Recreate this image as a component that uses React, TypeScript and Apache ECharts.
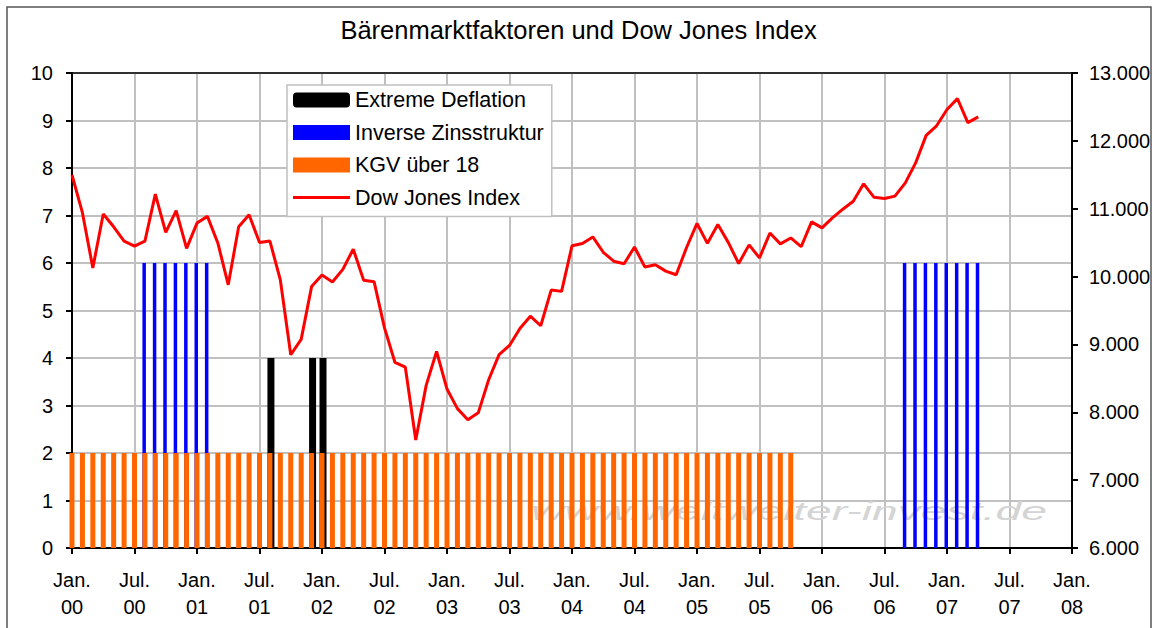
import React, { useEffect, useRef } from "react";
import * as echarts from "echarts";

const FONT = '"Liberation Sans", Arial, sans-serif';

const years = ["00", "01", "02", "03", "04", "05", "06", "07", "08"];
const monthNames = ["Jan.", "Feb.", "Mär.", "Apr.", "Mai", "Jun.", "Jul.", "Aug.", "Sep.", "Okt.", "Nov.", "Dez."];

// Monthly categories Jan. 00 ... Jan. 08
const categories: string[] = [];
years.forEach((y, yi) =>
  monthNames.forEach((m, mi) => {
    if (yi < 8 || mi === 0) categories.push(m + "\n" + y);
  })
);

const N = null;

// Extreme Deflation (value 4)
const extremeDeflation = [
  N, N, N, N, N, N, N, N, N, N, N, N,
  N, N, N, N, N, N, N, 4, N, N, N, 4,
  4, N, N, N, N, N, N, N, N, N, N, N,
  N, N, N, N, N, N, N, N, N, N, N, N,
  N, N, N, N, N, N, N, N, N, N, N, N,
  N, N, N, N, N, N, N, N, N, N, N, N,
  N, N, N, N, N, N, N, N, N, N, N, N,
  N, N, N, N, N, N, N, N, N, N, N, N,
  N,
];

// Inverse Zinsstruktur (value 6)
const inverseZins = [
  N, N, N, N, N, N, N, 6, 6, 6, 6, 6,
  6, 6, N, N, N, N, N, N, N, N, N, N,
  N, N, N, N, N, N, N, N, N, N, N, N,
  N, N, N, N, N, N, N, N, N, N, N, N,
  N, N, N, N, N, N, N, N, N, N, N, N,
  N, N, N, N, N, N, N, N, N, N, N, N,
  N, N, N, N, N, N, N, N, 6, 6, 6, 6,
  6, 6, 6, 6, N, N, N, N, N, N, N, N,
  N,
];

// KGV über 18 (value 2)
const kgvUeber18 = [
  2, 2, 2, 2, 2, 2, 2, 2, 2, 2, 2, 2,
  2, 2, 2, 2, 2, 2, 2, 2, 2, 2, 2, 2,
  2, 2, 2, 2, 2, 2, 2, 2, 2, 2, 2, 2,
  2, 2, 2, 2, 2, 2, 2, 2, 2, 2, 2, 2,
  2, 2, 2, 2, 2, 2, 2, 2, 2, 2, 2, 2,
  2, 2, 2, 2, 2, 2, 2, 2, 2, 2, N, N,
  N, N, N, N, N, N, N, N, N, N, N, N,
  N, N, N, N, N, N, N, N, N, N, N, N,
  N,
];

// Dow Jones Index (right axis)
const dowJones = [
  11497, 10941, 10128, 10922, 10734, 10522, 10448, 10522, 11215, 10651, 10971, 10415,
  10788, 10887, 10495, 9879, 10735, 10912, 10502, 10523, 9950, 8848, 9075, 9852,
  10022, 9920, 10106, 10404, 9946, 9925, 9243, 8737, 8664, 7592, 8397, 8896,
  8342, 8054, 7891, 7992, 8480, 8850, 8985, 9234, 9416, 9275, 9801, 9782,
  10454, 10488, 10584, 10358, 10226, 10188, 10435, 10140, 10174, 10080, 10027, 10428,
  10783, 10490, 10766, 10504, 10193, 10467, 10275, 10641, 10482, 10569, 10440, 10806,
  10718, 10865, 10993, 11109, 11367, 11168, 11150, 11186, 11381, 11679, 12081, 12222,
  12463, 12622, 12269, 12354,
];

const seriesNames = ["Extreme Deflation", "Inverse Zinsstruktur", "KGV über 18", "Dow Jones Index"];
const chartTitle = "Bärenmarktfaktoren und Dow Jones Index";
const watermark = "www.weltweiter-invest.de";

export default function App() {
  const ref = useRef<HTMLDivElement>(null);

  useEffect(() => {
    document.body.style.margin = "0";
    if (!ref.current) return;
    const chart = echarts.init(ref.current, undefined, { renderer: "svg" });
    const gridColor = "#c0c0c0";
    chart.setOption({
      animation: false,
      textStyle: { fontFamily: FONT },
      title: {
        text: chartTitle,
        left: "center",
        top: 12,
        textStyle: { fontSize: 25.5, fontWeight: "normal", color: "#000", fontFamily: FONT },
      },
      legend: {
        orient: "vertical",
        left: 287,
        top: 85,
        itemWidth: 57,
        itemHeight: 15,
        itemGap: 10.5,
        padding: [4, 8, 8, 6],
        backgroundColor: "#fff",
        borderColor: "#c0c0c0",
        borderWidth: 1.5,
        textStyle: { fontSize: 21.5, lineHeight: 20, color: "#000", fontFamily: FONT },
        data: [
          { name: seriesNames[0], icon: "roundRect" },
          { name: seriesNames[1], icon: "rect" },
          { name: seriesNames[2], icon: "rect" },
          { name: seriesNames[3], icon: "path://M0,0h57v3h-57z" },
        ],
      },
      grid: { left: 72, right: 85, top: 73, bottom: 80, show: false },
      xAxis: [
        {
          type: "category",
          data: categories,
          boundaryGap: false,
          axisLine: { lineStyle: { color: "#000", width: 2 } },
          axisTick: { interval: 5, length: 6, lineStyle: { color: "#000", width: 2 } },
          axisLabel: { interval: 5, fontSize: 20, lineHeight: 27, color: "#000", margin: 18, fontFamily: FONT },
          splitLine: { show: true, interval: 5, lineStyle: { color: gridColor, width: 2 } },
        },
        {
          type: "category",
          data: categories,
          position: "top",
          boundaryGap: false,
          axisLine: { show: true, lineStyle: { color: "#000", width: 1.5 } },
          axisTick: { show: false },
          axisLabel: { show: false },
          splitLine: { show: false },
        },
      ],
      yAxis: [
        {
          type: "value",
          min: 0,
          max: 10,
          interval: 1,
          axisLine: { show: true, lineStyle: { color: "#000", width: 2 } },
          axisTick: { show: true, length: 6, lineStyle: { color: "#000", width: 2 } },
          axisLabel: { fontSize: 20, color: "#000", margin: 19, fontFamily: FONT },
          splitLine: { show: true, lineStyle: { color: gridColor, width: 2 } },
        },
        {
          type: "value",
          position: "right",
          min: 6000,
          max: 13000,
          interval: 1000,
          axisLine: { show: true, lineStyle: { color: "#000", width: 2 } },
          axisTick: { show: true, length: 6, lineStyle: { color: "#000", width: 2 } },
          axisLabel: {
            fontSize: 20,
            color: "#000",
            margin: 17,
            fontFamily: FONT,
            formatter: (v: number) => Math.round(v / 1000) + ".000",
          },
          splitLine: { show: false },
        },
      ],
      graphic: [
        {
          type: "rect",
          z: 100,
          silent: true,
          shape: { x: 7, y: 7, width: 1144, height: 660 },
          style: { fill: "none", stroke: "#555", lineWidth: 1.5 },
        },
        {
          type: "text",
          z: 1,
          silent: true,
          x: 531,
          y: 511,
          scaleX: 1.78,
          style: {
            text: watermark,
            x: 0,
            y: 0,
            font: 'italic 26px "Liberation Sans", Arial, sans-serif',
            fill: "#d4d4d4",
            textAlign: "left",
            textVerticalAlign: "middle",
          },
        },
      ],
      series: [
        {
          name: seriesNames[0],
          type: "bar",
          data: extremeDeflation,
          barWidth: 7,
          barGap: "-100%",
          itemStyle: { color: "#000000" },
        },
        {
          name: seriesNames[1],
          type: "bar",
          data: inverseZins,
          barWidth: 3.5,
          barGap: "-100%",
          itemStyle: { color: "#0000ff" },
        },
        {
          name: seriesNames[2],
          type: "bar",
          data: kgvUeber18,
          barWidth: 5,
          barGap: "-100%",
          itemStyle: { color: "#ff6600" },
        },
        {
          name: seriesNames[3],
          type: "line",
          yAxisIndex: 1,
          data: dowJones,
          symbol: "none",
          z: 5,
          lineStyle: { color: "#ff0000", width: 3 },
          itemStyle: { color: "#ff0000" },
        },
      ],
    });
    return () => chart.dispose();
  }, []);

  return <div ref={ref} style={{ width: 1157, height: 628 }} />;
}
